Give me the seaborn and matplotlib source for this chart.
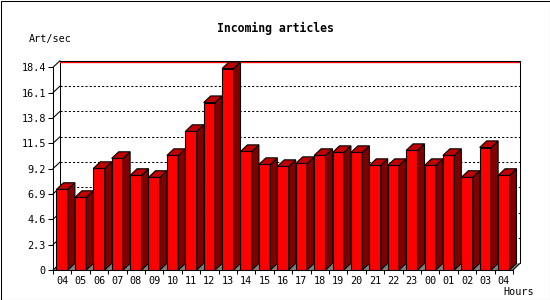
import numpy as np
import pandas as pd
import matplotlib
matplotlib.use("Agg")
import matplotlib.pyplot as plt
import seaborn as sns
from matplotlib.patches import Polygon, Rectangle

# ---- data ----
hours = ["04", "05", "06", "07", "08", "09", "10", "11", "12", "13", "14", "15",
         "16", "17", "18", "19", "20", "21", "22", "23", "00", "01", "02", "03", "04"]
values = [7.32, 6.59, 9.22, 10.13, 8.59, 8.41, 10.40, 12.58, 15.20, 18.29, 10.76, 9.58,
          9.40, 9.67, 10.40, 10.67, 10.67, 9.49, 9.49, 10.85, 9.49, 10.40, 8.41, 11.12, 8.59]
yticks = [0, 2.3, 4.6, 6.9, 9.2, 11.5, 13.8, 16.1, 18.4]
ytick_labels = ["0", "2.3", "4.6", "6.9", "9.2", "11.5", "13.8", "16.1", "18.4"]
title = "Incoming articles"
ylabel = "Art/sec"
xlabel = "Hours"

FRONT = "#FF0000"
SIDE = "#800000"
TOP = "#C00000"
FLOOR = "#808080"

sns.set_style("white")
plt.rcParams["font.family"] = ["DejaVu Sans Mono", "DejaVu Sans"]
plt.rcParams["text.color"] = "black"
plt.rcParams["axes.labelcolor"] = "black"
plt.rcParams["xtick.color"] = "black"
plt.rcParams["ytick.color"] = "black"

W, H = 550, 300
fig = plt.figure(figsize=(5.5, 3.0), dpi=100)
fig.patch.set_facecolor("white")

ymax = yticks[-1]
dx = 0.38   # depth in x (slot units)
dy = 0.60   # depth in y (value units)
n = len(values)

left_px, right_px, bottom_px, top_px = 53, 520, 270, 60.7
ax = fig.add_axes([left_px / W, 1 - bottom_px / H,
                   (right_px - left_px) / W, (bottom_px - top_px) / H])
ax.set_facecolor("white")

df = pd.DataFrame({"pos": np.arange(n), "val": values})
sns.barplot(data=df, x="pos", y="val", width=0.62, color=FRONT, saturation=1,
            edgecolor="black", linewidth=0.8, ax=ax, zorder=4)

ax.set_xlim(-0.5, n - 0.5 + dx)
ax.set_ylim(0, ymax + dy)

lw = 0.75
x0b, x1b = -0.5 + dx, n - 0.5 + dx

# floor
ax.add_patch(Polygon([(-0.5, 0), (n - 0.5, 0), (x1b, dy), (x0b, dy)],
                     closed=True, facecolor=FLOOR, edgecolor="none", zorder=1))
# back-left vertical
ax.plot([x0b, x0b], [dy, ymax + dy], color="black", lw=lw, zorder=2)
# grid lines
for t in yticks[1:-1]:
    ax.plot([x0b, x1b], [t + dy, t + dy], color="black", lw=lw,
            linestyle=(0, (2, 2)), zorder=2)
for t in yticks:
    ax.plot([-0.5, x0b], [t, t + dy], color="black", lw=lw, zorder=2, clip_on=False)
# top lines
ax.plot([x0b, x1b], [ymax + dy - 0.12, ymax + dy - 0.12], color="red", lw=lw * 1.3, zorder=2)
ax.plot([x0b, x1b], [ymax + dy, ymax + dy], color="black", lw=lw, zorder=2, clip_on=False)
# back right vertical and diagonal
ax.plot([x1b, x1b], [dy, ymax + dy], color="black", lw=lw, zorder=2, clip_on=False)
ax.plot([n - 0.5, x1b], [0, dy], color="black", lw=lw, zorder=6, clip_on=False)
# front axes
ax.plot([-0.5, -0.5], [0, ymax], color="black", lw=lw, zorder=6, clip_on=False)
ax.plot([-0.5, n - 0.5], [0, 0], color="black", lw=lw, zorder=6, clip_on=False)

# 3D faces for each bar
for p in list(ax.patches):
    if not isinstance(p, Rectangle):
        continue
    bx, bw, bh = p.get_x(), p.get_width(), p.get_height()
    if bh <= 0:
        continue
    side = Polygon([(bx + bw, 0), (bx + bw + dx, dy), (bx + bw + dx, bh + dy), (bx + bw, bh)],
                   closed=True, facecolor=SIDE, edgecolor="black", lw=0.8, zorder=4,
                   clip_on=False)
    top = Polygon([(bx, bh), (bx + dx, bh + dy), (bx + bw + dx, bh + dy), (bx + bw, bh)],
                  closed=True, facecolor=TOP, edgecolor="black", lw=0.8, zorder=4,
                  clip_on=False)
    ax.add_patch(side)
    ax.add_patch(top)

for s in ax.spines.values():
    s.set_visible(False)

ax.set_yticks(yticks)
ax.set_yticklabels(ytick_labels)
ax.tick_params(axis="y", which="major", direction="out", length=3.6, width=lw,
               color="black", labelcolor="black", pad=1.5, labelsize=7.3, left=True)
ax.set_xticks(np.arange(n))
ax.set_xticklabels(hours)
ax.set_xticks(np.arange(n + 1) - 0.5, minor=True)
ax.tick_params(axis="x", which="major", length=0, pad=4.5, labelsize=7.3,
               labelcolor="black")
ax.tick_params(axis="x", which="minor", direction="out", length=3.0, width=lw,
               color="black", bottom=True)
ax.set_xlabel("")
ax.set_ylabel("")
ax.grid(False)

fig.text(0.5, 1 - 28 / H, title, ha="center", va="center", fontsize=8.3,
         fontweight="bold", color="black")
fig.text(29 / W, 1 - 39 / H, ylabel, ha="left", va="center", fontsize=7.3, color="black")
fig.text(534 / W, 1 - 292 / H, xlabel, ha="right", va="center", fontsize=7.3, color="black")

fig.patches.append(Rectangle((0.5 / W, 0.5 / H), 1 - 1 / W, 1 - 1 / H,
                             transform=fig.transFigure, fill=False,
                             edgecolor="black", lw=0.75, zorder=10))

fig.savefig("out.png", dpi=100)
